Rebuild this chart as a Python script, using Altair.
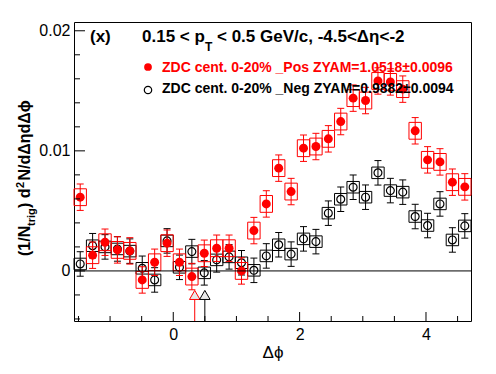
import math
import altair as alt
import pandas as pd

# ---------------- data ----------------
n_bins = 32
red_vals = [0.00614, 0.00131, 0.00239, 0.00175, 0.00167, -0.00075, 0.00072, 0.00231,
            0.00072, -0.00047, 0.00147, 0.00189, 0.00189, 0.00000, 0.00336, 0.00558,
            0.00856, 0.00661, 0.01022, 0.01036, 0.01100, 0.01244, 0.01439, 0.01419,
            0.01582, 0.01574, 0.01514, 0.01167, 0.00925, 0.00908, 0.00739, 0.00700]
black_vals = [0.00058, 0.00210, 0.00200, 0.00183, 0.00165, 0.00022, -0.00075, 0.00250,
              0.00030, 0.00161, -0.00016, 0.00092, 0.00117, 0.00068, 0.00005, 0.00125,
              0.00218, 0.00140, 0.00267, 0.00244, 0.00481, 0.00597, 0.00697, 0.00614,
              0.00817, 0.00669, 0.00656, 0.00453, 0.00378, 0.00558, 0.00258, 0.00375]
red_stat, red_syst = 0.0011, 0.00070
black_stat, black_syst = 0.00102, 0.00048
tri_phi = [0.34, 0.50]          # ZYAM markers (Pos, Neg)
tri_level = -0.0020
tri_colors = ["red", "black"]

x_domain = [-math.pi / 2, 3 * math.pi / 2]
y_domain = [-0.00417, 0.02073]
x_major = [0, 2, 4]
x_minor = [-1.5, -1, -0.5, 0.5, 1, 1.5, 2.5, 3, 3.5, 4.5]
y_major = [0, 0.01, 0.02]
y_minor = [-0.004, -0.002, 0.002, 0.004, 0.006, 0.008, 0.012, 0.014, 0.016, 0.018]

legend_pos = "ZDC cent. 0-20% _Pos ZYAM=1.0518±0.0096"
legend_neg = "ZDC cent. 0-20% _Neg ZYAM=0.9882±0.0094"

W, H = 397, 299
FONT = "Liberation Sans"

bw = (x_domain[1] - x_domain[0]) / n_bins
rows = []
for name, vals, st, sy in [("pos", red_vals, red_stat, red_syst),
                           ("neg", black_vals, black_stat, black_syst)]:
    for i, v in enumerate(vals):
        lo = x_domain[0] + i * bw
        rows.append(dict(series=name, lo=lo, hi=lo + bw, phi=lo + bw / 2, val=v,
                         elo=v - st, ehi=v + st, slo=v - sy, shi=v + sy))
df = pd.DataFrame(rows)

xs = alt.Scale(domain=x_domain, nice=False, zero=False)
ys = alt.Scale(domain=y_domain, nice=False, zero=False)
xaxis = alt.Axis(values=x_major, format="d", ticks=False, tickSize=0, domain=False, grid=False,
                 labelFont=FONT, labelFontSize=16, labelColor="black", labelPadding=5,
                 title="Δϕ", titleFont=FONT, titleFontSize=17, titleFontWeight="normal",
                 titleColor="black", titleY=36, titleBaseline="alphabetic")
yaxis = alt.Axis(values=y_major, labelExpr="datum.value == 0 ? '0' : format(datum.value, '.2f')",
                 ticks=False, tickSize=0, domain=False, grid=False,
                 labelFont=FONT, labelFontSize=16, labelColor="black", labelPadding=4, title=None)


def X(f):
    return alt.X(f, type="quantitative", scale=xs, axis=xaxis)


def Y(f):
    return alt.Y(f, type="quantitative", scale=ys, axis=yaxis)


def series_layers(name, color, filled):
    d = alt.Chart(df).transform_filter(alt.datum.series == name)
    boxes = d.mark_rect(fillOpacity=0, stroke=color, strokeWidth=1).encode(
        x=X("lo"), x2="hi", y=Y("slo"), y2="shi")
    bars = d.mark_rule(color=color, strokeWidth=1).encode(x=X("phi"), y=Y("elo"), y2="ehi")
    cap_lo = d.mark_tick(orient="horizontal", size=7, thickness=1, color=color, opacity=1).encode(
        x=X("phi"), y=Y("elo"))
    cap_hi = d.mark_tick(orient="horizontal", size=7, thickness=1, color=color, opacity=1).encode(
        x=X("phi"), y=Y("ehi"))
    if filled:
        pts = d.mark_point(shape="circle", filled=True, size=80, color=color, opacity=1).encode(
            x=X("phi"), y=Y("val"))
    else:
        pts = d.mark_point(shape="circle", filled=False, size=62, stroke=color, strokeWidth=1.2,
                           opacity=1).encode(x=X("phi"), y=Y("val"))
    return [boxes, bars, cap_lo, cap_hi, pts]


zero = alt.Chart(pd.DataFrame({"y": [0]})).mark_rule(color="black", strokeWidth=1).encode(
    y=Y("y"), x=alt.value(0), x2=alt.value(W))

tri_df = pd.DataFrame({"phi": tri_phi, "lvl": [tri_level] * len(tri_phi), "c": tri_colors})
tri_lines = alt.Chart(tri_df).mark_rule(strokeWidth=1).encode(
    x=X("phi"), y=Y("lvl"), y2=alt.value(H),
    color=alt.Color("c:N", scale=None))
tri_pts = alt.Chart(tri_df).mark_point(shape="triangle-up", filled=False, size=110, fill="#e8e8e8",
                                       fillOpacity=1, strokeWidth=1, opacity=1).encode(
    x=X("phi"), y=Y("lvl"), stroke=alt.Stroke("c:N", scale=None))

# inward ticks
xmaj = alt.Chart(pd.DataFrame({"v": x_major})).mark_rule(color="black").encode(
    x=X("v"), y=alt.value(H), y2=alt.value(H - 9))
xmin = alt.Chart(pd.DataFrame({"v": x_minor})).mark_rule(color="black").encode(
    x=X("v"), y=alt.value(H), y2=alt.value(H - 5))
ymaj = alt.Chart(pd.DataFrame({"v": y_major})).mark_rule(color="black").encode(
    y=Y("v"), x=alt.value(0), x2=alt.value(11))
ymin = alt.Chart(pd.DataFrame({"v": y_minor})).mark_rule(color="black").encode(
    y=Y("v"), x=alt.value(0), x2=alt.value(6))


def txt(s, x, y, size, color="black", bold=True, angle=0, align="left"):
    kw = dict(text=s, font=FONT, fontSize=size, fontWeight="bold" if bold else "normal",
              color=color, align=align, baseline="alphabetic")
    if angle:
        kw["angle"] = angle
    return alt.Chart(pd.DataFrame({"a": [0]})).mark_text(**kw).encode(
        x=alt.value(x), y=alt.value(y))


texts = [
    txt("(x)", 16, 20, 17),
    txt("0.15 < p", 68, 20, 17),
    txt("T", 131, 29, 12),
    txt("< 0.5 GeV/c, -4.5<Δη<-2", 143, 20, 17),
    txt(legend_pos, 88, 50, 14, color="red"),
    txt(legend_neg, 88, 71, 14),
    # rotated y title pieces
    txt("(1/N", -44, 234, 16, angle=270),
    txt("trig", -39.5, 204, 11, angle=270),
    txt(") d", -44, 186, 16, angle=270),
    txt("2", -50.5, 166, 11, angle=270),
    txt("N/dΔηdΔϕ", -44, 158.5, 16, angle=270),
]
leg_pts = [
    alt.Chart(pd.DataFrame({"a": [0]})).mark_point(shape="circle", filled=True, size=60,
                                                   color="red", opacity=1).encode(
        x=alt.value(74), y=alt.value(45)),
    alt.Chart(pd.DataFrame({"a": [0]})).mark_point(shape="circle", filled=False, size=55,
                                                   stroke="black", strokeWidth=1.2, opacity=1).encode(
        x=alt.value(74), y=alt.value(68)),
]

layers = (series_layers("neg", "black", False) + series_layers("pos", "red", True)
          + [zero, tri_lines, tri_pts, xmaj, xmin, ymaj, ymin] + texts + leg_pts)

chart = alt.layer(*layers).properties(
    width=W, height=H,
    padding={"left": 66, "top": 14, "right": 15, "bottom": 45},
    autosize=alt.AutoSizeParams(type="none"),
    background="white",
).configure_view(stroke="black", strokeWidth=1)

chart.save("out.html", embed_options={"renderer": "svg", "actions": False})
